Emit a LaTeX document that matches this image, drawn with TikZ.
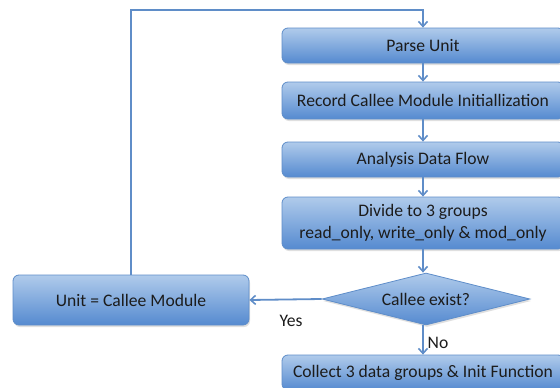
\documentclass[tikz,border=0pt]{standalone}
\usepackage{fontspec}
\setmainfont{Carlito}
\usetikzlibrary{arrows.meta,shapes.geometric,shadows}
\definecolor{boxtop}{HTML}{B0CBEB}
\definecolor{boxbot}{HTML}{558AD0}
\definecolor{boxline}{HTML}{5E8DC9}
\definecolor{flow}{HTML}{5F8DC8}
\definecolor{ink}{HTML}{1C1C1C}
\tikzset{
  stepbox/.style={rectangle, rounded corners=6pt, draw=boxline, line width=0.8pt,
    top color=boxtop, bottom color=boxbot, text=ink, font=\fontsize{17.6}{21}\selectfont,
    align=center, inner sep=0pt,
    drop shadow={opacity=0.25, shadow xshift=1pt, shadow yshift=-2pt}},
  decision/.style={diamond, draw=boxline, line width=0.8pt,
    top color=boxtop, bottom color=boxbot,
    inner sep=0pt, minimum width=208pt, minimum height=52pt,
    drop shadow={opacity=0.25, shadow xshift=1pt, shadow yshift=-2pt}},
  flowline/.style={draw=flow, line width=1.8pt, -{Straight Barb[length=5pt,width=9pt,line width=1.6pt]}},
  tag/.style={text=ink, font=\fontsize{17.6}{21}\selectfont, inner sep=0pt}
}
\begin{document}
\begin{tikzpicture}[x=1pt,y=-1pt]
  \clip (0,0) rectangle (560,388);
  \fill[white] (0,0) rectangle (560,388);
  \node[stepbox, minimum width=282pt, minimum height=35pt] (parse) at (423,45.5) {Parse Unit};
  \node[stepbox, minimum width=282pt, minimum height=37pt] (record) at (423,100.5) {Record Callee Module Initiallization};
  \node[stepbox, minimum width=282pt, minimum height=35pt] (analysis) at (423,159.5) {Analysis Data Flow};
  \node[stepbox, minimum width=282pt, minimum height=52pt] (divide) at (423,223) {Divide to 3 groups\\[1pt]read\_only, write\_only \& mod\_only};
  \node[decision] (exist) at (426,299) {};
  \node[tag] (existtext) at (exist.center) {Callee exist?};
  \node[stepbox, minimum width=236pt, minimum height=50pt] (unit) at (131,300) {Unit = Callee Module};
  \node[stepbox, minimum width=282pt, minimum height=35pt] (collect) at (423,372.5) {Collect 3 data groups \& Init Function};
  \coordinate (loopL) at (131,10);
  \coordinate (loopR) at (423,10);

  \draw[flowline] (parse) -- (record);
  \draw[flowline] (record) -- (analysis);
  \draw[flowline] (analysis) -- (divide);
  \draw[flowline] (divide.south) -- (divide.south |- exist.north);
  \draw[flowline] (exist.west) -- (unit.east);
  \draw[flowline] (divide.south |- exist.south) -- (collect.north);
  \draw[flowline] (unit.north) -- (loopL) -- (loopR) -- (parse.north);

  \node[tag] (yes) at (291,321) {Yes};
  \node[tag] (no) at (438,343) {No};
\end{tikzpicture}
\end{document}
